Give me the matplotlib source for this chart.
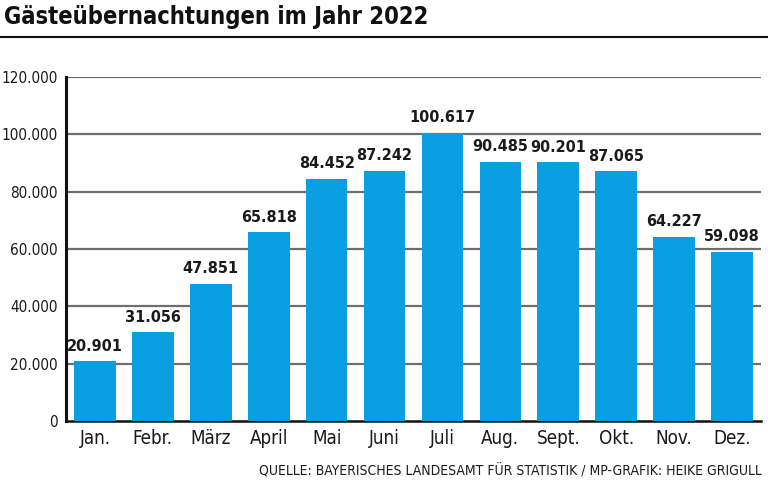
import matplotlib
matplotlib.use("Agg")
import matplotlib.pyplot as plt
from matplotlib import font_manager as fm

months = ["Jan.", "Febr.", "März", "April", "Mai", "Juni", "Juli", "Aug.", "Sept.", "Okt.", "Nov.", "Dez."]
values = [20901, 31056, 47851, 65818, 84452, 87242, 100617, 90485, 90201, 87065, 64227, 59098]
yticks = [0, 20000, 40000, 60000, 80000, 100000, 120000]

def fmt(v):
    return f"{v:,}".replace(",", ".")

names = {f.name for f in fm.fontManager.ttflist}
if 'Liberation Sans Narrow' in names:
    plt.rcParams['font.family'] = ['Liberation Sans Narrow', 'DejaVu Sans']
    narrow = True
else:
    plt.rcParams['font.family'] = ['DejaVu Sans']
    plt.rcParams['font.stretch'] = 'condensed'
    narrow = False

W, H = 768, 486
fig = plt.figure(figsize=(W/100, H/100), dpi=100)
ax = fig.add_axes([66/W, 1-421/H, (761-66)/W, (421-77)/H])

x = range(len(months))
ax.bar(x, values, width=0.72, color='#0a9fe0', zorder=3)
for xi, v in zip(x, values):
    ax.text(xi, v + 2600, fmt(v), ha='center', va='bottom', fontsize=13 if narrow else 11.6,
            fontweight='bold', color='#1a1a1a', zorder=4)

ax.set_xlim(-0.5, len(months) - 0.5)
ax.set_ylim(0, 120000)
ax.set_yticks(yticks)
ax.set_yticklabels([fmt(t) if t else "0" for t in yticks], fontsize=12 if narrow else 11, color='#1a1a1a')
ax.set_xticks(list(x))
ax.set_xticklabels(months, fontsize=14 if narrow else 13.5, color='#1a1a1a')
ax.tick_params(axis='both', length=0)
ax.tick_params(axis='y', pad=6)
ax.tick_params(axis='x', pad=6)
for t in yticks[1:]:
    ax.axhline(t, color='#6e6e6e', lw=1.6, zorder=1)
for s in ['top', 'right']:
    ax.spines[s].set_visible(False)
ax.spines['left'].set_linewidth(2.2)
ax.spines['bottom'].set_linewidth(1.8)
ax.spines['left'].set_color('#111111')
ax.spines['bottom'].set_color('#111111')

fig.text(4/W, 1-17/H, "Gästeübernachtungen im Jahr 2022", fontsize=19 if narrow else 17, fontweight='bold',
         ha='left', va='center', color='#111111')
fig.add_artist(plt.Line2D([0, 1], [1-37/H, 1-37/H], color='#111111', lw=1.5, transform=fig.transFigure))
fig.text(762/W, 1-471/H, "QUELLE: BAYERISCHES LANDESAMT FÜR STATISTIK / MP-GRAFIK: HEIKE GRIGULL",
         fontsize=10, ha='right', va='center', color='#1a1a1a')

fig.savefig("out.png", dpi=100)
